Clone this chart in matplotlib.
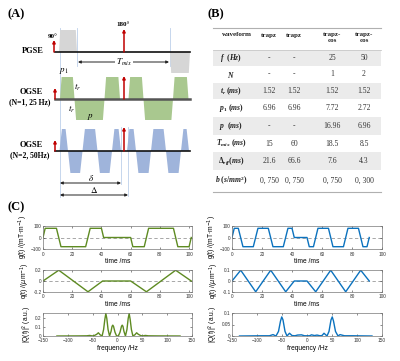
import numpy as np
import matplotlib
matplotlib.use('Agg')
import matplotlib.pyplot as plt
from matplotlib.patches import Polygon, Rectangle

plt.rcParams['mathtext.fontset'] = 'custom'
plt.rcParams['mathtext.it'] = 'Liberation Serif:italic:bold'
plt.rcParams['mathtext.rm'] = 'Liberation Serif:bold'
plt.rcParams['mathtext.bf'] = 'Liberation Serif:bold'

# ---------------- data ----------------
# (B) table
tab_header = ['waveform', 'trapz', 'trapz', 'trapz-\ncos', 'trapz-\ncos']
tab_rows = [r'$f\ \ (Hz)$', r'$N$', r'$t_r\ (ms)$', r'$p_1\ (ms)$', r'$p\ \ (ms)$',
            r'$T_{mix}\ (ms)$', r'$\Delta_{eff}(ms)$', r'$b\ (s/mm^2)$']
tab_vals = [['-', '-', '25', '50'],
            ['-', '-', '1', '2'],
            ['1.52', '1.52', '1.52', '1.52'],
            ['6.96', '6.96', '7.72', '2.72'],
            ['-', '-', '16.96', '6.96'],
            ['15', '60', '18.5', '8.5'],
            ['21.6', '66.6', '7.6', '4.3'],
            ['0, 750', '0, 750', '0, 750', '0, 300']]

# (C) N=1, 25 Hz gradient breakpoints
g1_t = [0, 1.5, 9.2, 12.3, 29.2, 32.3, 40.0, 41.5, 60.0, 61.5, 69.3, 72.3, 89.3, 92.3, 100.0, 101.5]
g1_v = [0, 80, 80, -80, -80, 80, 80, 0, 0, -80, -80, 80, 80, -80, -80, 0]
q1_t = [0, 10.8, 30.8, 40.8, 60.0, 70.8, 90.8, 101.5]
q1_v = [0, 0.2, -0.2, 0, 0, -0.2, 0.2, 0]
s1_f = [-122, -80, -62, -56, -51, -47, -42, -38.5, -35, -31, -28, -25.5, -23.5, -21.5, -19, -16,
        -13, -11, -9.5, -8, -5, -2, 0, 2, 5, 8, 9.5, 11, 13, 16, 19, 21.5, 23.5, 25.5, 28, 31,
        35, 38.5, 42, 47, 51, 56, 62, 80, 126]
s1_v = [0, 0.001, 0.002, 0.006, 0.001, 0.004, 0.018, 0.035, 0.013, 0.0, 0.07, 0.18, 0.245, 0.19, 0.07, 0.0,
        0.05, 0.105, 0.118, 0.105, 0.04, 0.003, 0.0, 0.003, 0.04, 0.105, 0.118, 0.105, 0.05, 0.0, 0.07,
        0.19, 0.245, 0.18, 0.07, 0.0, 0.013, 0.035, 0.018, 0.004, 0.001, 0.006, 0.002, 0.001, 0]

# (C) N=2, 50 Hz gradient breakpoints
g2_t = [0, 1.5, 4.2, 7.3, 14.2, 17.3, 24.2, 27.3, 34.2, 37.3, 40.0, 41.5, 50.0, 51.5, 54.3, 57.3,
        64.3, 67.3, 74.3, 77.3, 84.3, 87.3, 90.0, 91.5]
g2_v = [0, 80, 80, -80, -80, 80, 80, -80, -80, 80, 80, 0, 0, -80, -80, 80,
        80, -80, -80, 80, 80, -80, -80, 0]
q2_t = [0, 5.8, 15.8, 25.8, 35.8, 41.5, 50.0, 55.8, 65.8, 75.8, 85.8, 91.5]
q2_v = [0, 0.1, -0.1, 0.1, -0.1, 0, 0, -0.1, 0.1, -0.1, 0.1, 0]
s2_f = [-135, -90, -75, -68, -62, -57, -53, -50.5, -48, -44, -40, -35, -30, -24, -19, -11, -5, 0,
        5, 9, 15, 20, 26, 30, 34, 40, 44, 48, 50.5, 53, 57, 62, 66, 75, 90, 130]
s2_v = [0, 0.001, 0.001, 0.006, 0.0, 0.02, 0.065, 0.083, 0.07, 0.02, 0.0, 0.012, 0.002, 0.001, 0.004, 0.005, 0.001, 0.001,
        0.001, 0.005, 0.002, 0.004, 0.001, 0.002, 0.012, 0.0, 0.02, 0.07, 0.083, 0.065, 0.02, 0.0, 0.006, 0.001, 0.001, 0]

# (A) schematic lobes: (start, end, sign), schematic units
pgse_lobes = [(59, 77, 1), (170, 190, -1)]
ogse1_lobes = [(60, 74.5, 1), (74.5, 104.5, -1), (104.5, 120, 1),
               (128.5, 143.5, 1), (143.5, 173, -1), (173, 188.5, 1)]
ogse2_lobes = [(59.5, 68, 1), (68, 82.5, -1), (82.5, 97.5, 1), (97.5, 112, -1), (112, 121, 1),
               (127, 136, 1), (136, 151, -1), (151, 166, 1), (166, 181, -1), (181, 189, 1)]

red = '#c00000'
green_fill = '#a9c88f'
blue_fill = '#9fb4db'
gray_fill = '#d6d6d6'
green_line = '#5e8b22'
blue_line = '#0b72be'
guide = '#bdd0ea'

fig = plt.figure(figsize=(4.0, 3.61), dpi=100)
ax = fig.add_axes([0, 0, 1, 1])
ax.set_xlim(0, 400)
ax.set_ylim(361, 0)
ax.axis('off')

serif = 'Liberation Serif'

# ---------------- (A) ----------------
ax.text(7, 14, '(A)', fontsize=9, fontweight='bold', family=serif, va='center')
ax.text(207, 14, '(B)', fontsize=9, fontweight='bold', family=serif, va='center')
ax.text(7, 207, '(C)', fontsize=9, fontweight='bold', family=serif, va='center')


def draw_lobes(lobes, base, up, down, ramp, color):
    for x0, x1, s in lobes:
        amp = up if s > 0 else -down
        pts = [(x0, base), (x0 + ramp, base - amp), (x1 - ramp, base - amp), (x1, base)]
        ax.add_patch(Polygon(pts, closed=True, facecolor=color, edgecolor='none', zorder=2))


def rf(x, base, top):
    ax.annotate('', xy=(x, top), xytext=(x, base),
                arrowprops=dict(arrowstyle='-|>', color=red, lw=1.1, mutation_scale=4,
                                shrinkA=0, shrinkB=0), zorder=5)


def span(x0, x1, y):
    ax.annotate('', xy=(x1, y), xytext=(x0, y),
                arrowprops=dict(arrowstyle='<|-|>', color='#222222', lw=0.7, mutation_scale=4,
                                shrinkA=0, shrinkB=0), zorder=5)


# guide lines
for x, y0, y1 in [(60, 28, 197), (77, 28, 66), (170, 28, 66), (121, 127, 184), (128, 127, 196)]:
    ax.plot([x, x], [y0, y1], color=guide, lw=0.6, zorder=1)

# PGSE
draw_lobes(pgse_lobes, 52, 22, 21, 1.2, gray_fill)
ax.plot([55, 190], [52, 52], color='#111111', lw=1.2, zorder=3)
rf(54, 52, 40)
rf(124, 52, 29)
ax.text(53, 36, '90°', fontsize=5, fontweight='bold', family=serif, ha='center', va='center')
ax.text(123, 25, '180°', fontsize=5, fontweight='bold', family=serif, ha='center', va='center')
ax.text(33, 51, 'PGSE', fontsize=6, fontweight='bold', family=serif, ha='center', va='center')
span(78, 169, 62)
ax.text(124, 62, r'$T_{mix}$', fontsize=6.5, math_fontfamily='stix', ha='center', va='center',
        bbox=dict(facecolor='white', edgecolor='none', pad=0.3), zorder=6)

# OGSE N=1
draw_lobes(ogse1_lobes, 99, 22, 21, 1.6, green_fill)
ax.plot([55, 190], [99, 99], color='#555555', lw=1.8, zorder=3)
rf(55, 99, 88)
rf(124, 99, 76)
ax.text(31, 92, 'OGSE', fontsize=6, fontweight='bold', family=serif, ha='center', va='center')
ax.text(30, 102, '(N=1, 25 Hz)', fontsize=5.5, fontweight='bold', family=serif, ha='center', va='center')
ax.text(64, 71, r'$p_1$', fontsize=6.5, math_fontfamily='stix', ha='center', va='center')
ax.text(78, 87, r'$t_r$', fontsize=6.5, math_fontfamily='stix', ha='center', va='center')
ax.text(72, 109, r'$t_r$', fontsize=6.5, math_fontfamily='stix', ha='center', va='center')
ax.text(90, 116, r'$p$', fontsize=6.5, math_fontfamily='stix', ha='center', va='center')

# OGSE N=2
draw_lobes(ogse2_lobes, 151, 22, 22, 2.4, blue_fill)
ax.plot([55, 190], [151, 151], color='#111111', lw=1.2, zorder=3)
rf(55, 151, 140)
rf(124, 151, 127)
ax.text(31, 145, 'OGSE', fontsize=6, fontweight='bold', family=serif, ha='center', va='center')
ax.text(30, 155, '(N=2, 50Hz)', fontsize=5.5, fontweight='bold', family=serif, ha='center', va='center')
span(60, 121, 183)
span(60, 128, 195)
ax.text(91, 178, r'$\delta$', fontsize=6.5, math_fontfamily='stix', ha='center', va='center')
ax.text(94, 190, r'$\Delta$', fontsize=6.5, math_fontfamily='stix', ha='center', va='center')

# ---------------- (B) table ----------------
tx0, tx1 = 213, 381
col_x = [237, 269, 294, 332, 364]
bounds = [28, 50, 66, 83, 99, 117, 135, 152, 170, 192]
for i in range(len(tab_rows)):
    if i % 2 == 0:
        ax.add_patch(Rectangle((tx0, bounds[i + 1]), tx1 - tx0, bounds[i + 2] - bounds[i + 1],
                               facecolor='#ebebeb', edgecolor='none', zorder=1))
for y in [bounds[0], bounds[-1]]:
    ax.plot([tx0, tx1], [y, y], color='#b0b0b0', lw=0.8, zorder=2)
ax.plot([tx0, tx1], [bounds[1], bounds[1]], color='#c8c8c8', lw=0.6, zorder=2)
for j, h in enumerate(tab_header):
    yy = 37.5 if '\n' in h else 35
    ax.text(col_x[j], yy, h, fontsize=5, fontweight='bold', family=serif, ha='center', va='center',
            color='#222222', linespacing=1.1)
for i, lab in enumerate(tab_rows):
    yc = (bounds[i + 1] + bounds[i + 2]) / 2
    ax.text(231, yc, lab, fontsize=5.5, ha='center', va='center', color='#222222')
    for j, v in enumerate(tab_vals[i]):
        ax.text(col_x[j + 1], yc, v, fontsize=5.5, family=serif, ha='center', va='center', color='#333333')


# ---------------- (C) plots ----------------
def box(x0, y0, x1, y1):
    return [x0 / 400, 1 - y1 / 361, (x1 - x0) / 400, (y1 - y0) / 361]


def style(a):
    a.tick_params(direction='in', top=True, right=True, length=1.5, width=0.4,
                  labelsize=3.4, pad=1, colors='#333333')
    a.tick_params(axis='x', pad=1.8)
    for sp in a.spines.values():
        sp.set_linewidth(0.5)
        sp.set_color('#777777')
    for t in a.get_xticklabels() + a.get_yticklabels():
        t.set_family('Liberation Sans')


lab_kw = dict(fontsize=4.8, family='Liberation Sans', math_fontfamily='dejavusans')

cols = [(43, 192, g1_t, g1_v, q1_t, q1_v, s1_f, s1_v, green_line, 102, [-0.2, 0, 0.2], (-0.2, 0.2), 0.25, [0, 0.1, 0.2]),
        (232, 382, g2_t, g2_v, q2_t, q2_v, s2_f, s2_v, blue_line, 100, [-0.1, 0, 0.1], (-0.1, 0.1), 0.1, [0, 0.05, 0.1])]

for x0, x1, gt, gv, qt, qv, sf, sv, col, tmax, qticks, qlim, smax, sticks in cols:
    ag = fig.add_axes(box(x0, 226, x1, 249))
    ag.plot(gt, gv, color=col, lw=1.0)
    ag.axhline(0, color='#999999', lw=0.6, ls=(0, (4, 3)), zorder=0)
    ag.set_xlim(0, tmax)
    ag.set_ylim(-100, 100)
    ag.set_xticks([0, 20, 40, 60, 80, 100])
    ag.set_yticks([-100, 0, 100])
    ag.set_xlabel('time /ms', labelpad=1, **lab_kw)
    ag.set_ylabel(r'g(t) /(mT$\cdot$m$^{-1}$)', labelpad=1, **lab_kw)
    style(ag)

    aq = fig.add_axes(box(x0, 270, x1, 292))
    aq.plot(qt, qv, color=col, lw=1.0)
    aq.axhline(0, color='#999999', lw=0.6, ls=(0, (4, 3)), zorder=0)
    aq.set_xlim(0, tmax)
    aq.set_ylim(qlim[0] * 1.02, qlim[1] * 1.02)
    aq.set_xticks([0, 20, 40, 60, 80, 100])
    aq.set_yticks(qticks)
    aq.set_yticklabels([('%g' % v) for v in qticks])
    aq.set_xlabel('time /ms', labelpad=1, **lab_kw)
    aq.set_ylabel(r'q(t) /($\mu$m$^{-1}$)', labelpad=1, **lab_kw)
    style(aq)

    asp = fig.add_axes(box(x0, 313, x1, 336))
    asp.plot(sf, sv, color=col, lw=1.0)
    asp.set_xlim(-150, 150)
    asp.set_ylim(0, smax)
    asp.set_xticks([-150, -100, -50, 0, 50, 100, 150])
    asp.set_yticks(sticks)
    asp.set_yticklabels([('%g' % v) for v in sticks])
    asp.set_xlabel('frequency /Hz', labelpad=1, **lab_kw)
    asp.set_ylabel(r'|Q(f)|$^2$ (a.u.)', labelpad=1, **lab_kw)
    style(asp)

fig.savefig('out.png', dpi=100)
